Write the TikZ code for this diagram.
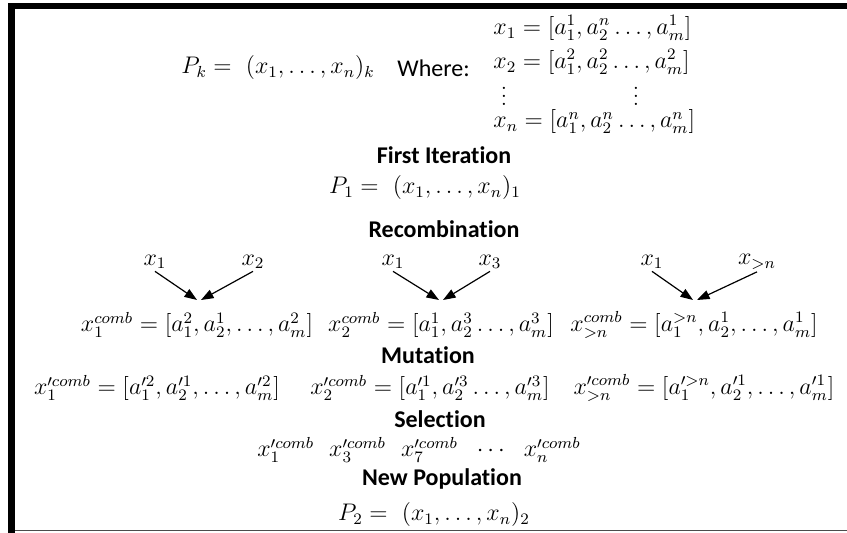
\documentclass[tikz,border=0pt]{standalone}
\usepackage[no-math]{fontspec}
\newfontfamily\headfont[Ligatures=NoCommon]{Carlito}
\usetikzlibrary{arrows.meta, positioning}

\begin{document}
\begin{tikzpicture}[
  x=0.5pt, y=-0.5pt,
  head/.style={font=\headfont\fontsize{12}{14}\selectfont\bfseries, inner sep=0pt},
  txt/.style={font=\headfont\fontsize{12}{14}\selectfont, inner sep=0pt},
  eq/.style={font=\fontsize{11.5}{14}\selectfont, inner sep=0pt},
  row/.style={eq, anchor=west},
  lbl/.style={eq, inner sep=1pt},
  comb/.style={-{Triangle[length=2.2mm, width=1.6mm]}, line width=0.6pt},
  node distance=0.55cm and 1.15cm
]
\useasboundingbox (0,0) rectangle (847,533);
\fill (8,3) rectangle (15,533);
\fill (8,3) rectangle (847,9);
\draw[line width=0.8pt, black!70] (15,530.5) -- (847,530.5);

\node[eq] (pk) at (278,68) {$P_k =\ (x_1,\ldots,x_n)_k$};
\node[txt, right=11pt of pk] (where) {Where:};
\node[row] (xa) at (493,28) {$x_1 = [a^1_1, a^n_2 \ldots, a^1_m]$};
\node[row] (xb) at (493,62) {$x_2 = [a^2_1, a^2_2 \ldots, a^2_m]$};
\node[eq] (va) at (504,90) {$\vdots$};
\node[eq] (vb) at (636,90) {$\vdots$};
\node[row] (xn) at (493,122) {$x_n = [a^n_1, a^n_2 \ldots, a^n_m]$};

\node[head] (first) at (444,155) {First Iteration};
\node[eq] (p1) at (425,188) {$P_1 =\ (x_1,\ldots,x_n)_1$};
\node[head] (recomb) at (444,229) {Recombination};

\node[lbl] (la) at (155,262) {$x_1$};
\node[lbl] (lb) at (253,262) {$x_2$};
\node[lbl] (lc) at (393,262) {$x_1$};
\node[lbl] (ld) at (490,262) {$x_3$};
\node[lbl] (le) at (652,262) {$x_1$};
\node[lbl] (lf) at (757,262) {$x_{>n}$};

\coordinate (ta) at (197,300);
\coordinate (tb) at (201,300);
\coordinate (tc) at (439,300);
\coordinate (td) at (443,300);
\coordinate (te) at (693,300);
\coordinate (tf) at (697,300);

\node[eq] (ca) at (197,325) {$x^{comb}_1 = [a^2_1, a^1_2, \ldots, a^2_m]$};
\node[eq] (cb) at (441,325) {$x^{comb}_2 = [a^1_1, a^3_2 \ldots, a^3_m]$};
\node[eq] (cc) at (694,325) {$x^{comb}_{>n} = [a^{>n}_1, a^1_2, \ldots, a^1_m]$};

\draw[comb] (la.south) -- (ta);
\draw[comb] (lb.south) -- (tb);
\draw[comb] (lc.south) -- (tc);
\draw[comb] (ld.south) -- (td);
\draw[comb] (le.south) -- (te);
\draw[comb] (lf.south) -- (tf);

\node[head] (mut) at (428,355) {Mutation};
\node[eq] (ma) at (157,388) {$x'^{comb}_1 = [a'^2_1, a'^1_2, \ldots, a'^2_m]$};
\node[eq] (mb) at (430,388) {$x'^{comb}_2 = [a'^1_1, a'^3_2 \ldots, a'^3_m]$};
\node[eq] (mc) at (704,388) {$x'^{comb}_{>n} = [a'^{>n}_1, a'^1_2, \ldots, a'^1_m]$};

\node[head] (sel) at (440,419) {Selection};
\node[eq] (chosen) at (419,450) {$x'^{comb}_1\ \ x'^{comb}_3\ \ x'^{comb}_7\ \ \cdots\ \ x'^{comb}_n$};
\node[head] (newpop) at (442,479) {New Population};
\node[eq] (p2) at (434,515) {$P_2 =\ (x_1,\ldots,x_n)_2$};
\end{tikzpicture}
\end{document}
